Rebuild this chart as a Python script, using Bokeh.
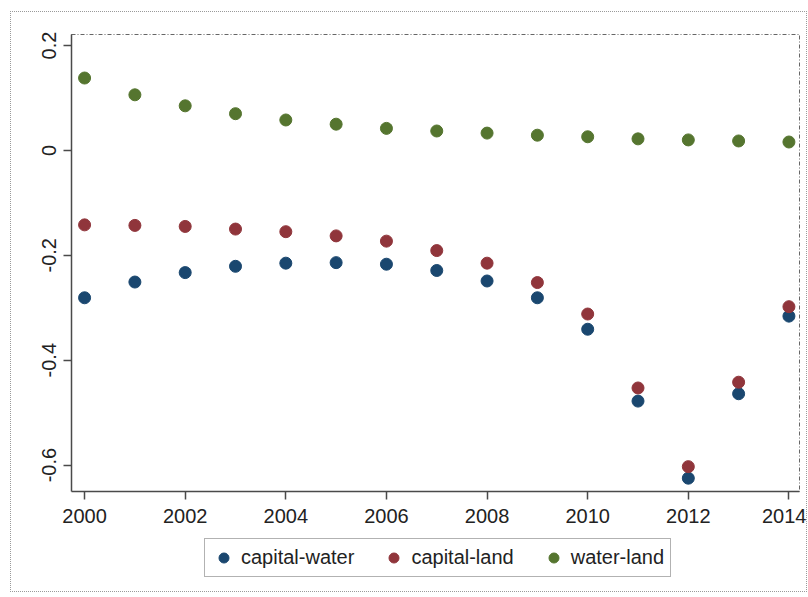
from bokeh.plotting import figure
from bokeh.models import Range1d, Legend, LegendItem, FixedTicker, ColumnDataSource
from bokeh.layouts import column
from bokeh.embed import file_html
from bokeh.resources import INLINE

years = list(range(2000, 2015))
capital_water = [-0.281, -0.251, -0.233, -0.221, -0.215, -0.214, -0.217, -0.229,
                 -0.249, -0.281, -0.341, -0.478, -0.625, -0.464, -0.316]
capital_land = [-0.142, -0.143, -0.145, -0.150, -0.155, -0.163, -0.173, -0.191,
                -0.215, -0.252, -0.312, -0.453, -0.603, -0.442, -0.298]
water_land = [0.138, 0.106, 0.085, 0.070, 0.058, 0.050, 0.042, 0.037,
              0.033, 0.029, 0.026, 0.022, 0.020, 0.018, 0.016]

series_names = ["capital-water", "capital-land", "water-land"]
series_values = [capital_water, capital_land, water_land]
series_colors = ["#1a476f", "#90353b", "#55752f"]

x_ticks = [2000, 2002, 2004, 2006, 2008, 2010, 2012, 2014]
y_ticks = [-0.6, -0.4, -0.2, 0, 0.2]
y_tick_labels = {-0.6: "-0.6", -0.4: "-0.4", -0.2: "-0.2", 0: "0", 0.2: "0.2"}

FONT = "Liberation Sans"

# ---- main scatter plot ----
p = figure(width=795, height=522, output_backend="svg", toolbar_location=None,
           x_range=Range1d(1999.74, 2014.21), y_range=Range1d(-0.6504, 0.221),
           min_border_left=60, min_border_right=7, min_border_top=22,
           min_border_bottom=43)

p.xgrid.visible = False
p.ygrid.visible = False
p.background_fill_color = "white"
p.border_fill_color = "white"
p.outline_line_color = "#666666"
p.outline_line_dash = "4 2 1 2"
p.outline_line_width = 1

sources = []
for name, vals, col in zip(series_names, series_values, series_colors):
    src = ColumnDataSource(dict(x=years, y=vals))
    sources.append(src)
    p.scatter("x", "y", source=src, size=12, fill_color=col, line_color=col)

for ax in (p.xaxis[0], p.yaxis[0]):
    ax.axis_line_color = "#4a4a4a"
    ax.axis_line_width = 1.5
    ax.major_tick_line_color = "#4a4a4a"
    ax.major_tick_line_width = 1.5
    ax.major_tick_out = 8
    ax.major_tick_in = 0
    ax.minor_tick_out = 0
    ax.minor_tick_in = 0
    ax.major_label_text_font = FONT
    ax.major_label_text_font_size = "20px"
    ax.major_label_text_color = "#222222"

p.xaxis.ticker = FixedTicker(ticks=x_ticks)
p.xaxis.major_label_standoff = 9
p.yaxis.ticker = FixedTicker(ticks=y_ticks)
p.yaxis.major_label_overrides = y_tick_labels
p.yaxis.major_label_orientation = "vertical"
p.yaxis.major_label_standoff = 7

# ---- legend strip below the plot (hidden copies of the series as legend keys) ----
pl = figure(width=795, height=57, output_backend="svg", toolbar_location=None,
            x_range=p.x_range, y_range=p.y_range,
            x_axis_location=None, y_axis_location=None,
            min_border_left=0, min_border_right=0, min_border_top=0,
            min_border_bottom=0)
pl.xgrid.visible = False
pl.ygrid.visible = False
pl.outline_line_color = None
pl.background_fill_color = "white"
pl.border_fill_color = "white"

items = []
for name, src, col in zip(series_names, sources, series_colors):
    r = pl.scatter("x", "y", source=src, size=12, fill_color=col,
                   line_color=col, visible=False)
    items.append(LegendItem(label=name, renderers=[r]))

legend = Legend(items=items, orientation="horizontal", location=(133, 14),
                label_text_font=FONT, label_text_font_size="20px",
                label_text_color="#222222", glyph_width=25, glyph_height=25,
                label_standoff=5, spacing=27, padding=6, margin=0,
                border_line_color="#666666", border_line_width=1,
                background_fill_color="white", inactive_fill_alpha=0.0)
pl.add_layout(legend, "center")

inner = column(p, pl, spacing=0, styles={"border": "1px dotted #9a9a9a"})
outer = column(inner, styles={"padding": "11px 0px 0px 10px"})

open("out.html", "w").write(file_html(outer, INLINE))
